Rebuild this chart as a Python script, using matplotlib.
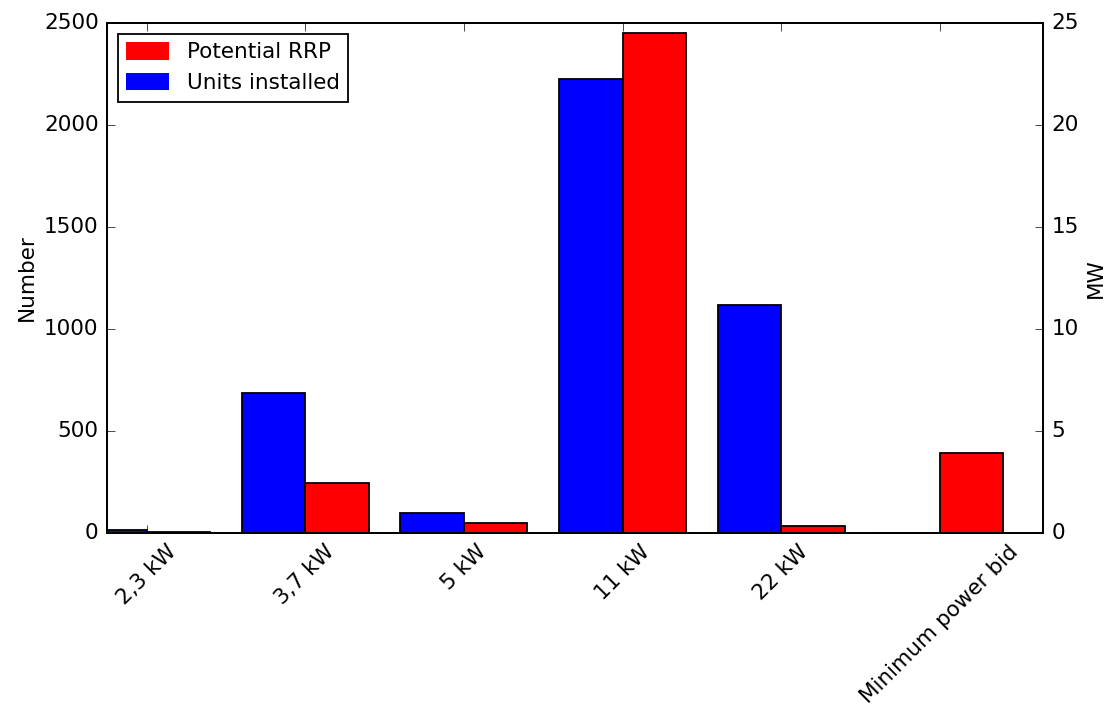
import matplotlib
matplotlib.use("Agg")
import matplotlib.pyplot as plt
from matplotlib.patches import Patch
import numpy as np

plt.style.use('classic')
plt.rcParams['font.size'] = 15.5
plt.rcParams['axes.linewidth'] = 1.3
plt.rcParams['patch.linewidth'] = 1.3
plt.rcParams['xtick.major.size'] = 6
plt.rcParams['ytick.major.size'] = 6
plt.rcParams['xtick.major.pad'] = 6
plt.rcParams['ytick.major.pad'] = 6

# Charger categories
categories = ['2,3 kW', '3,7 kW', '5 kW', '11 kW', '22 kW', 'Minimum power bid']
units_installed = [15, 688, 100, 2225, 1118, 0]       # number of units
potential_rrp = [0.05, 2.44, 0.5, 24.5, 0.35, 3.92]   # MW

x = np.arange(len(categories))
w = 0.4

fig = plt.figure(figsize=(11.1, 7.09), dpi=100, facecolor='white')
ax1 = fig.add_axes([0.0964, 0.2482, 0.8432, 0.7194])
ax2 = ax1.twinx()

ax1.bar(x - w, units_installed, w, align='edge', color='blue', edgecolor='black')
ax2.bar(x, potential_rrp, w, align='edge', color='red', edgecolor='black')

ax1.set_xlim(-0.25, 5.65)
ax1.set_ylim(0, 2500)
ax2.set_ylim(0, 25)
ax1.set_ylabel('Number')
ax2.set_ylabel('MW')
ax1.set_xticks(x)
ax1.set_xticklabels(categories, rotation=45)

handles = [Patch(facecolor='red', edgecolor='none'), Patch(facecolor='blue', edgecolor='none')]
ax1.legend(handles, ['Potential RRP', 'Units installed'], loc='upper left',
           fontsize=15.5, handleheight=0.85)

fig.savefig('out.png', dpi=100, facecolor='white')
